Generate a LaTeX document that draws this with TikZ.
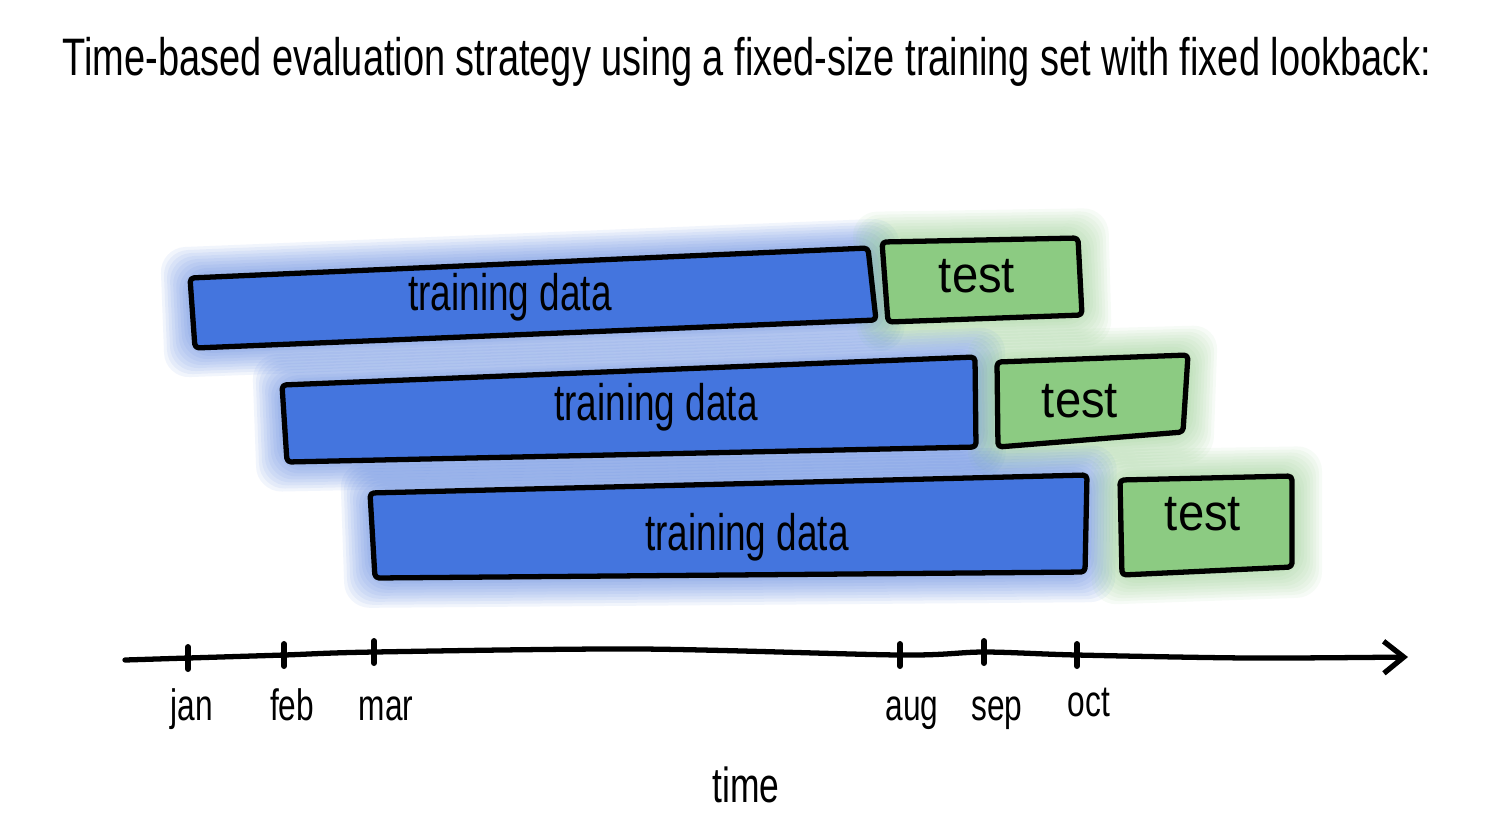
\documentclass[tikz,border=0pt]{standalone}
\usepackage{fontspec}
\newfontfamily\handfont[FakeStretch=0.72]{Liberation Sans}
\newfontfamily\testfont[FakeStretch=0.92]{Liberation Sans}
\usetikzlibrary{arrows.meta,calc}
\definecolor{trainblue}{RGB}{68,117,222}
\definecolor{testgreen}{RGB}{140,203,130}

\begin{document}
\begin{tikzpicture}[x=0.01cm,y=-0.01cm,
    every node/.style={font=\handfont\fontsize{15}{18}\selectfont,inner sep=0pt},
    sketch/.style={draw=black,line width=1.5pt,line join=round,rounded corners=0.04cm},
    axisline/.style={line width=1.5pt,line cap=round,-{Straight Barb[length=0.2cm,width=0.32cm]}},
    tick/.style={line width=1.7pt,line cap=round},
    boxlabel/.style={anchor=base,font=\handfont\fontsize{14.6}{18}\selectfont},
    testlabel/.style={anchor=base,font=\testfont\fontsize{14.6}{18}\selectfont},
    monthlabel/.style={anchor=base,font=\handfont\fontsize{12.5}{15}\selectfont}]
  \fill[white] (0,0) rectangle (1502,832);
  \useasboundingbox (0,0) rectangle (1502,832);

  % title
  \node[anchor=base] (title) at (747,75) {Time-based evaluation strategy using a fixed-size training set with fixed lookback:};

  % corners of the boxes
  \coordinate (tr1a) at (190,278); \coordinate (tr1b) at (868,248);
  \coordinate (tr1c) at (876,320); \coordinate (tr1d) at (195,348);
  \coordinate (te1a) at (882,242); \coordinate (te1b) at (1078,238);
  \coordinate (te1c) at (1082,315); \coordinate (te1d) at (888,322);
  \coordinate (tr2a) at (282,385); \coordinate (tr2b) at (975,357);
  \coordinate (tr2c) at (976,447); \coordinate (tr2d) at (287,462);
  \coordinate (te2a) at (997,362); \coordinate (te2b) at (1188,355);
  \coordinate (te2c) at (1183,432); \coordinate (te2d) at (998,447);
  \coordinate (tr3a) at (370,493); \coordinate (tr3b) at (1087,475);
  \coordinate (tr3c) at (1085,572); \coordinate (tr3d) at (375,578);
  \coordinate (te3a) at (1120,480); \coordinate (te3b) at (1292,476);
  \coordinate (te3c) at (1292,567); \coordinate (te3d) at (1122,575);

  % watercolour halos
  \foreach \bname/\c in {tr1/trainblue,te1/testgreen,tr2/trainblue,te2/testgreen,tr3/trainblue,te3/testgreen}
    \foreach \k in {3,6,...,30}
      \fill[\c,opacity=0.07,rounded corners=0.25cm]
        ($(\bname a)+(-\k,-\k)$) -- ($(\bname b)+(\k,-\k)$) -- ($(\bname c)+(\k,\k)$) -- ($(\bname d)+(-\k,\k)$) -- cycle;

  % boxes
  \foreach \bname/\c in {tr1/trainblue,te1/testgreen,tr2/trainblue,te2/testgreen,tr3/trainblue,te3/testgreen}
    \draw[sketch,fill=\c] (\bname a) -- (\bname b) -- (\bname c) -- (\bname d) -- cycle;

  \node[boxlabel] (train1) at (510,310) {training data};
  \node[boxlabel] (train2) at (656,420) {training data};
  \node[boxlabel] (train3) at (747,550) {training data};
  \node[testlabel] (test1) at (977,292) {test};
  \node[testlabel] (test2) at (1080,417) {test};
  \node[testlabel] (test3) at (1203,530) {test};

  % time axis
  \coordinate (start) at (125,660);
  \coordinate (jan) at (188,658);
  \coordinate (feb) at (284,655);
  \coordinate (mar) at (374,652);
  \coordinate (aug) at (900,655);
  \coordinate (sep) at (984,652);
  \coordinate (oct) at (1077,655);
  \coordinate (end) at (1408,657);
  \draw[axisline] plot[smooth,tension=0.5] coordinates {(start) (jan) (feb) (mar) (640,649) (aug) (sep) (oct) (1250,658) (end)};
  \foreach \m in {jan,feb,mar,aug,sep,oct}
    \draw[tick] (\m) +(0,-11) -- +(0,11);

  \node[monthlabel] (janlbl) at (192,720) {jan};
  \node[monthlabel] (feblbl) at (292,720) {feb};
  \node[monthlabel] (marlbl) at (386,720) {mar};
  \node[monthlabel] (auglbl) at (912,720) {aug};
  \node[monthlabel] (seplbl) at (997,720) {sep};
  \node[monthlabel] (octlbl) at (1089,716) {oct};
  \node[monthlabel,font=\handfont\fontsize{14}{16}\selectfont] (timelbl) at (746,802) {time};
\end{tikzpicture}
\end{document}
